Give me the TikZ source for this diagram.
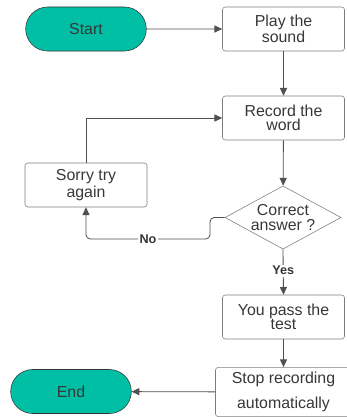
\documentclass[tikz,border=0pt]{standalone}
\usepackage{fontspec}
\setmainfont{Liberation Sans}
\usetikzlibrary{shapes.geometric,shapes.misc,arrows.meta}

\definecolor{teal}{RGB}{0,191,165}
\definecolor{edge}{RGB}{80,80,80}
\definecolor{ink}{RGB}{55,55,55}

\tikzset{
    terminal/.style={draw=ink, fill=teal, rounded rectangle, minimum width=3.25cm,
        minimum height=1.1cm, text=ink, font=\fontsize{11.3}{10}\selectfont},
    process/.style={draw=edge!75, rounded corners=2pt, minimum width=3.05cm,
        minimum height=1.1cm, align=center, text=ink, font=\fontsize{11.3}{10}\selectfont},
    decision/.style={draw=edge!75, diamond, aspect=1.85, minimum width=2.9cm, minimum height=1.58cm,
        align=center, text=ink, inner sep=0pt, font=\fontsize{11.3}{10}\selectfont},
    line/.style={draw=edge, line width=0.6pt, -{Triangle[length=5.5pt,width=5pt]}},
    lbl/.style={fill=white, inner sep=1pt, text=ink, font=\fontsize{9}{10}\selectfont\bfseries}
}

\begin{document}
\begin{tikzpicture}[x=0.025cm, y=-0.025cm]

    % --- Frame ---
    \useasboundingbox (0,0) rectangle (347,417);

    % --- Nodes ---
    % left column
    \node[terminal] (start) at (86,29) {Start};
    \node[process] (sorry) at (86,185) {Sorry try\\again};
    \node[terminal] (end) at (71,391.5) {End};

    % right column
    \node[process] (play) at (283.5,29) {Play the\\sound};
    \node[process] (record) at (283.5,118) {Record the\\word};
    \node[decision] (check) at (283,217.5) {Correct\\answer ?};
    \node[process] (pass) at (283.5,317) {You pass the\\test};
    \node[process, minimum width=3.4cm, minimum height=1.22cm,
        font=\fontsize{11.3}{17.8}\selectfont] (stop) at (283.5,392) {Stop recording\\automatically};

    % --- Bend points ---
    \coordinate (nobend) at (210,239);

    % --- Connectors ---
    \draw[line] (start) -- (play);
    \draw[line] (play) -- (record);
    \draw[line] (record) -- (check);
    \draw[line] (check.south) -- (pass.north) node[lbl, pos=0.47] {Yes};
    \draw[line] (pass) -- (stop);
    \draw[line] (stop) -- (end);
    \draw[line] (sorry.north) |- (record.west);
    \draw[line, rounded corners=3pt] (check.west) -| (nobend) -| (sorry.south);

    % No label
    \node[lbl] (no) at (148,239) {No};

\end{tikzpicture}
\end{document}
